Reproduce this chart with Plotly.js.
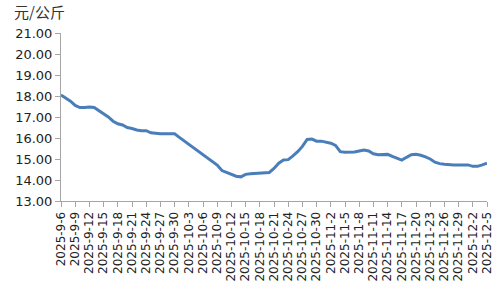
<!DOCTYPE html>
<html>
<head>
<meta charset="utf-8">
<script src="https://cdn.plot.ly/plotly-3.0.1.min.js"></script>
<style>html,body{margin:0;padding:0;background:#fff;}#chart{width:500px;height:300px;}</style>
</head>
<body>
<div id="chart"></div>
<script>
const dates = [
"2025-9-6","2025-9-7","2025-9-8","2025-9-9","2025-9-10","2025-9-11","2025-9-12","2025-9-13","2025-9-14","2025-9-15",
"2025-9-16","2025-9-17","2025-9-18","2025-9-19","2025-9-20","2025-9-21","2025-9-22","2025-9-23","2025-9-24","2025-9-25",
"2025-9-26","2025-9-27","2025-9-28","2025-9-29","2025-9-30","2025-10-1","2025-10-2","2025-10-3","2025-10-4","2025-10-5",
"2025-10-6","2025-10-7","2025-10-8","2025-10-9","2025-10-10","2025-10-11","2025-10-12","2025-10-13","2025-10-14","2025-10-15",
"2025-10-16","2025-10-17","2025-10-18","2025-10-19","2025-10-20","2025-10-21","2025-10-22","2025-10-23","2025-10-24","2025-10-25",
"2025-10-26","2025-10-27","2025-10-28","2025-10-29","2025-10-30","2025-10-31","2025-11-1","2025-11-2","2025-11-3","2025-11-4",
"2025-11-5","2025-11-6","2025-11-7","2025-11-8","2025-11-9","2025-11-10","2025-11-11","2025-11-12","2025-11-13","2025-11-14",
"2025-11-15","2025-11-16","2025-11-17","2025-11-18","2025-11-19","2025-11-20","2025-11-21","2025-11-22","2025-11-23","2025-11-24",
"2025-11-25","2025-11-26","2025-11-27","2025-11-28","2025-11-29","2025-11-30","2025-12-1","2025-12-2","2025-12-3","2025-12-4",
"2025-12-5"
];
const prices = [
18.05,17.90,17.75,17.55,17.45,17.45,17.48,17.45,17.30,17.15,
17.00,16.80,16.68,16.62,16.50,16.45,16.38,16.35,16.35,16.25,
16.22,16.20,16.20,16.20,16.20,16.03,15.87,15.70,15.54,15.37,
15.21,15.04,14.88,14.71,14.45,14.35,14.25,14.18,14.15,14.27,
14.30,14.32,14.33,14.35,14.36,14.55,14.80,14.95,14.97,15.15,
15.35,15.60,15.93,15.95,15.85,15.85,15.80,15.75,15.65,15.35,
15.32,15.32,15.33,15.38,15.43,15.38,15.25,15.20,15.22,15.22,
15.12,15.02,14.95,15.08,15.20,15.22,15.18,15.10,15.00,14.85,
14.78,14.75,14.72,14.72,14.72,14.72,14.72,14.65,14.65,14.72,
14.80
];
const yTitle = "元/公斤";
const tickLabels = dates.filter((d, i) => i % 3 === 0);

const trace = {
  x: dates, y: prices, type: 'scatter', mode: 'lines',
  line: {color: '#4a7ebb', width: 3}, hoverinfo: 'skip'
};
const layout = {
  width: 500, height: 300,
  margin: {l: 61, r: 13, t: 33, b: 99},
  paper_bgcolor: '#fff', plot_bgcolor: '#fff',
  showlegend: false,
  font: {family: 'DejaVu Sans, Verdana, sans-serif', color: '#222'},
  title: {text: yTitle, x: 14/500, xanchor: 'left', xref: 'container',
          y: 1 - 13/300, yanchor: 'middle', yref: 'container',
          font: {family: 'Noto Sans CJK SC, sans-serif', size: 15, color: '#333'}},
  xaxis: {
    type: 'category', range: [0, 90],
    tickmode: 'array', tickvals: tickLabels, ticktext: tickLabels,
    tickangle: -90, tickfont: {size: 12, color: '#222'},
    showline: true, linecolor: '#a6a6a6', linewidth: 1,
    ticks: 'outside', ticklen: 5, tickcolor: '#a6a6a6',
    showgrid: false, zeroline: false, fixedrange: true
  },
  yaxis: {
    range: [13, 21], dtick: 1, tick0: 13, tickformat: '.2f',
    tickfont: {size: 13, color: '#222'},
    showline: true, linecolor: '#a6a6a6', linewidth: 1,
    ticks: 'outside', ticklen: 5, tickcolor: '#a6a6a6',
    showgrid: false, zeroline: false, fixedrange: true
  }
};
Plotly.newPlot('chart', [trace], layout, {displayModeBar: false, staticPlot: true});
</script>
</body>
</html>
